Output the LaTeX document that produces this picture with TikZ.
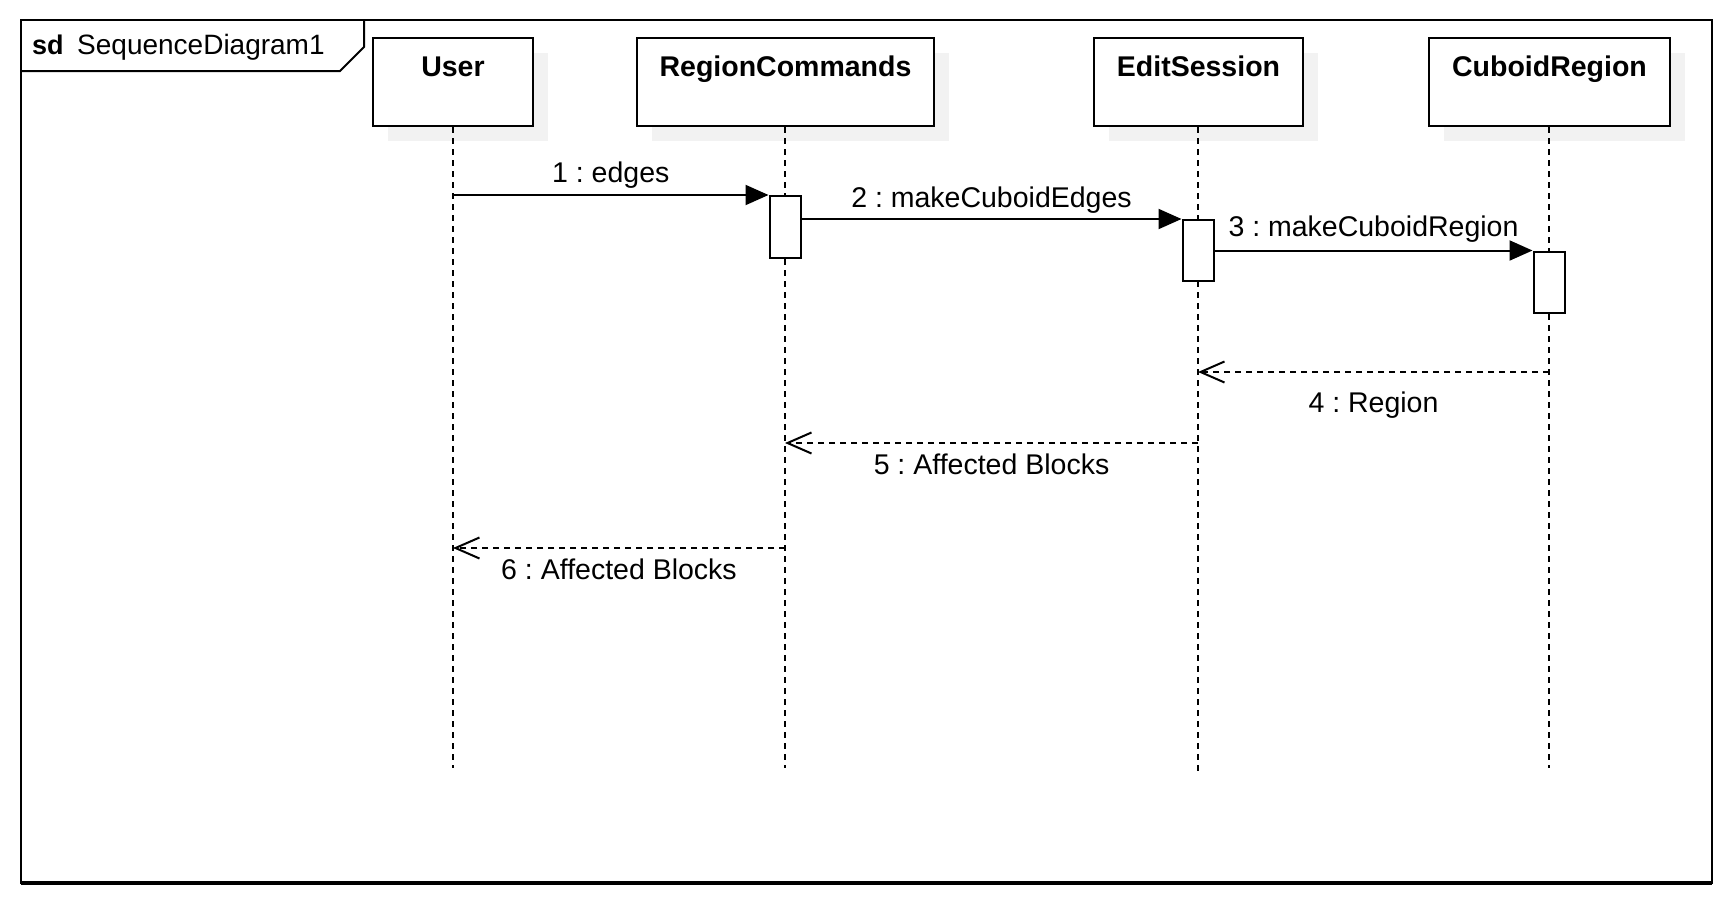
\documentclass[tikz,border=0pt]{standalone}
\usepackage{fontspec}
\setmainfont{Liberation Sans}
\usetikzlibrary{arrows.meta,shadows}
\definecolor{shadowgray}{HTML}{F2F2F2}
\frenchspacing
\tikzset{
  lbox/.style={draw, line width=2.4pt, fill=white, inner sep=0pt,
    drop shadow={shadow xshift=15pt, shadow yshift=-15pt, fill=shadowgray, opacity=1, draw=none},
    minimum height=88pt},
  lname/.style={font=\fontsize{28.5}{33}\selectfont\bfseries, inner sep=0pt, anchor=base},
  lifeline/.style={line width=1.8pt, dash pattern=on 6pt off 5pt},
  actbox/.style={draw, line width=2pt, fill=white, inner sep=0pt, minimum width=31pt},
  call/.style={line width=2pt, -{Triangle[length=23pt,width=20pt]}},
  ret/.style={line width=1.8pt, dash pattern=on 6pt off 5pt, -{Straight Barb[length=24pt,width=21pt,line width=2pt]}},
  msg/.style={font=\fontsize{28.5}{33}\selectfont, inner sep=0pt, anchor=base},
  framebox/.style={line width=2pt}
}
\begin{document}
\begin{tikzpicture}[x=1pt,y=-1pt]
\useasboundingbox (0,0) rectangle (1736,908);
% frame
\draw[framebox] (21,20) rectangle (1712,883);
\draw[line width=3.5pt] (21,883) -- (1712,883);
\draw[framebox] (21,71) -- (340,71) -- (364,47) -- (364,20);
\node[msg, anchor=base west, font=\fontsize{27}{32}\selectfont\bfseries] (sd) at (32,54) {sd};
\node[msg, anchor=base west, font=\fontsize{28}{33}\selectfont] (sdname) at (77,54) {SequenceDiagram1};
% lifeline heads
\node[lbox, minimum width=160pt] (user) at (453,82) {};
\node[lbox, minimum width=297pt] (rc) at (785.5,82) {};
\node[lbox, minimum width=209pt] (es) at (1198.5,82) {};
\node[lbox, minimum width=241pt] (cr) at (1549.5,82) {};
\node[lname] (userl) at (453,76) {User};
\node[lname] (rcl) at (785.5,76) {RegionCommands};
\node[lname] (esl) at (1198.5,76) {EditSession};
\node[lname] (crl) at (1549.5,76) {CuboidRegion};
% lifeline ends
\coordinate (userend) at (453,768);
\coordinate (rcend) at (785,768);
\coordinate (esend) at (1198,776);
\coordinate (crend) at (1549,768);
\draw[lifeline] (user.south -| userend) -- (userend);
\draw[lifeline] (rc.south -| rcend) -- (rcend);
\draw[lifeline] (es.south -| esend) -- (esend);
\draw[lifeline] (cr.south -| crend) -- (crend);
% activations
\node[actbox, minimum height=62pt] (act1) at (785,227) {};
\node[actbox, minimum height=61pt] (act2) at (1198,250.5) {};
\node[actbox, minimum height=61pt] (act3) at (1549,282) {};
% calls
\draw[call] (userend |- act1.north west) -- node[msg, midway, yshift=13pt] (m1) {1 : edges} (act1.north west);
\draw[call] (act1.east |- act2.north west) -- node[msg, midway, yshift=12pt] (m2) {2 : makeCuboidEdges} (act2.north west);
\draw[call] (act2.east |- act3.north west) -- node[msg, midway, yshift=14pt] (m3) {3 : makeCuboidRegion} (act3.north west);
% returns
\coordinate (y4) at (0,372);
\coordinate (y5) at (0,443);
\coordinate (y6) at (0,548);
\draw[ret] (crend |- y4) -- node[msg, midway, yshift=-40pt] (m4) {4 : Region} (esend |- y4);
\draw[ret] (esend |- y5) -- node[msg, midway, yshift=-31pt] (m5) {5 : Affected Blocks} (rcend |- y5);
\draw[ret] (rcend |- y6) -- node[msg, midway, yshift=-31pt] (m6) {6 : Affected Blocks} (userend |- y6);
\end{tikzpicture}
\end{document}
